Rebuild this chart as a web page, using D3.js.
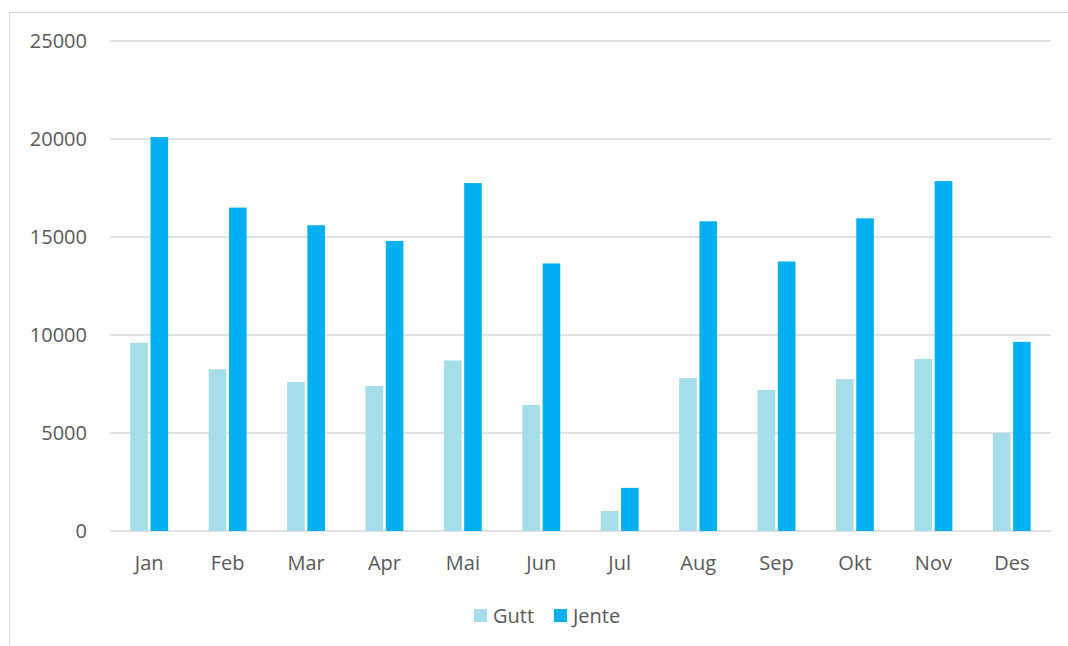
<!DOCTYPE html>
<html>
<head>
<meta charset="utf-8">
<script src="https://cdn.jsdelivr.net/npm/d3@7"></script>
<style>
  body { margin: 0; background: #fff; }
  text { font-family: "Open Sans", "Noto Sans", sans-serif; fill: #595959; }
</style>
</head>
<body>
<div id="chart"></div>
<script>
// data
const months = ["Jan", "Feb", "Mar", "Apr", "Mai", "Jun", "Jul", "Aug", "Sep", "Okt", "Nov", "Des"];
const gutt = [9600, 8250, 7600, 7400, 8700, 6430, 1020, 7800, 7200, 7750, 8780, 5000];
const jente = [20100, 16500, 15600, 14800, 17750, 13650, 2200, 15800, 13750, 15950, 17850, 9650];
const seriesNames = ["Gutt", "Jente"];
const yTicks = [0, 5000, 10000, 15000, 20000, 25000];

const colors = {Gutt: "#A5DEE9", Jente: "#00B0F0"};

var width = 1068, height = 646;
var margin = {top: 41, right: 17, bottom: 115, left: 110};

const svg = d3.select("#chart")
  .append("svg")
  .attr("width", width)
  .attr("height", height);

// outer chart border
svg.append("rect")
  .attr("x", 9.5).attr("y", 12.5)
  .attr("width", width).attr("height", height)
  .attr("fill", "none")
  .attr("stroke", "#D9D9D9");

const data = months.map((m, i) => ({month: m, Gutt: gutt[i], Jente: jente[i]}));

var x0 = d3.scaleBand()
  .domain(months)
  .range([margin.left, width - margin.right])
  .paddingInner(0)
  .paddingOuter(0);

var x1 = d3.scaleBand()
  .domain(seriesNames)
  .range([0, x0.bandwidth()])
  .paddingInner(0.13)
  .paddingOuter(1.0);

var y = d3.scaleLinear()
  .domain([0, 25000])
  .range([height - margin.bottom, margin.top]);

// gridlines
svg.append("g")
  .selectAll("line")
  .data(yTicks)
  .join("line")
  .attr("x1", margin.left)
  .attr("x2", width - margin.right)
  .attr("y1", d => y(d))
  .attr("y2", d => y(d))
  .attr("stroke", "#D9D9D9")
  .attr("stroke-width", 1.5);

// y labels
svg.append("g")
  .selectAll("text")
  .data(yTicks)
  .join("text")
  .attr("x", 87)
  .attr("y", d => y(d))
  .attr("dy", "0.35em")
  .attr("text-anchor", "end")
  .style("font-size", "20px")
  .text(d => d);

// bars
svg.append("g")
  .selectAll("g")
  .data(data)
  .join("g")
  .attr("transform", d => `translate(${x0(d.month)},0)`)
  .selectAll("rect")
  .data(d => seriesNames.map(k => ({key: k, value: d[k]})))
  .join("rect")
  .attr("x", d => x1(d.key))
  .attr("width", x1.bandwidth())
  .attr("y", d => y(d.value))
  .attr("height", d => y(0) - y(d.value))
  .attr("fill", d => colors[d.key]);

// x labels
svg.append("g")
  .selectAll("text")
  .data(months)
  .join("text")
  .attr("x", d => x0(d) + x0.bandwidth() / 2)
  .attr("y", 563)
  .attr("dy", "0.35em")
  .attr("text-anchor", "middle")
  .style("font-size", "20px")
  .text(d => d);

// legend
const legend = svg.append("g")
  .selectAll("g")
  .data(seriesNames)
  .join("g")
  .attr("transform", (d, i) => `translate(${474 + i * 80},609)`);

legend.append("rect")
  .attr("width", 13).attr("height", 13)
  .attr("fill", d => colors[d]);

legend.append("text")
  .attr("x", 19)
  .attr("y", 7)
  .attr("dy", "0.35em")
  .style("font-size", "20px")
  .text(d => d);
</script>
</body>
</html>
